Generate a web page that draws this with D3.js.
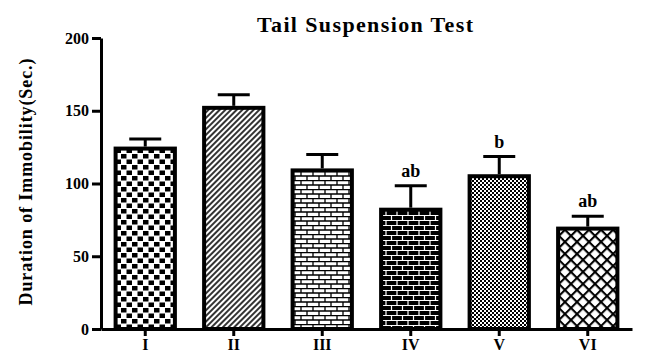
<!DOCTYPE html>
<html>
<head>
<meta charset="utf-8">
<script src="https://cdn.jsdelivr.net/npm/d3@7"></script>
<style>
    body { margin: 0; background: #fff; }
    text { font-family: 'Liberation Serif', 'Times New Roman', serif; font-weight: bold; }
</style>
</head>
<body>
<div id="chart"></div>
<script>
//Datos del gráfico
const groups = ['I', 'II', 'III', 'IV', 'V', 'VI'];
const means = [124, 152, 109, 82, 105, 69];
const sems = [6.5, 9, 11, 16.5, 13.5, 8.5];
const marks = ['', '', '', 'ab', 'b', 'ab'];
const yTicks = [0, 50, 100, 150, 200];
const patterns = ['checker', 'diag', 'brickLight', 'brickDark', 'fineChecker', 'lattice'];

let width = 647, height = 363;

let svg = d3.select('#chart')
    .append('svg')
        .attr('width', width)
        .attr('height', height);

//Patrones de relleno
let defs = svg.append('defs');

let p1 = defs.append('pattern').attr('id', 'checker').attr('patternUnits', 'userSpaceOnUse')
    .attr('width', 11).attr('height', 11);
p1.append('rect').attr('width', 11).attr('height', 11).attr('fill', '#fff');
p1.append('rect').attr('x', 0).attr('y', 0).attr('width', 5.5).attr('height', 4.5).attr('fill', '#000');
p1.append('rect').attr('x', 5.5).attr('y', 5.5).attr('width', 5.5).attr('height', 4.5).attr('fill', '#000');

let p2 = defs.append('pattern').attr('id', 'diag').attr('patternUnits', 'userSpaceOnUse')
    .attr('width', 4).attr('height', 4).attr('patternTransform', 'rotate(45)');
p2.append('rect').attr('width', 4).attr('height', 4).attr('fill', '#fff');
p2.append('line').attr('x1', 1).attr('x2', 1).attr('y1', 0).attr('y2', 4)
    .attr('stroke', '#000').attr('stroke-width', 1.6);

let p3 = defs.append('pattern').attr('id', 'brickLight').attr('patternUnits', 'userSpaceOnUse')
    .attr('width', 12).attr('height', 9);
p3.append('rect').attr('width', 12).attr('height', 9).attr('fill', '#fff');
p3.append('path').attr('d', 'M0,0.5H12M0,5H12M1,0V4.5M7,4.5V9')
    .attr('stroke', '#000').attr('stroke-width', 1.3).attr('fill', 'none');

let p4 = defs.append('pattern').attr('id', 'brickDark').attr('patternUnits', 'userSpaceOnUse')
    .attr('width', 11).attr('height', 10);
p4.append('rect').attr('width', 11).attr('height', 10).attr('fill', '#000');
p4.append('path').attr('d', 'M0,0.5H11M0,5.5H11M1,0V5M6.5,5V10')
    .attr('stroke', '#fff').attr('stroke-width', 1.2).attr('fill', 'none');

let p5 = defs.append('pattern').attr('id', 'fineChecker').attr('patternUnits', 'userSpaceOnUse')
    .attr('width', 4).attr('height', 4);
p5.append('rect').attr('width', 4).attr('height', 4).attr('fill', '#fff');
p5.append('rect').attr('width', 2).attr('height', 2).attr('fill', '#000');
p5.append('rect').attr('x', 2).attr('y', 2).attr('width', 2).attr('height', 2).attr('fill', '#000');

let p6 = defs.append('pattern').attr('id', 'lattice').attr('patternUnits', 'userSpaceOnUse')
    .attr('width', 8.5).attr('height', 8.5).attr('patternTransform', 'rotate(45)');
p6.append('rect').attr('width', 8.5).attr('height', 8.5).attr('fill', '#fff');
p6.append('path').attr('d', 'M0,0H8.5M0,0V8.5')
    .attr('stroke', '#000').attr('stroke-width', 4.2).attr('fill', 'none');

//Escalas
let x = d3.scaleBand()
    .domain(groups)
    .range([101, 632])
    .paddingInner(0.33)
    .paddingOuter(0.165);

let y = d3.scaleLinear()
    .domain([0, 200])
    .range([329, 38]);

//Barras
svg.append('g')
    .selectAll('rect')
    .data(groups)
    .enter()
    .append('rect')
    .attr('x', function(d) { return x(d); })
    .attr('y', function(d, i) { return y(means[i]); })
    .attr('width', x.bandwidth())
    .attr('height', function(d, i) { return y(0) - y(means[i]); })
    .attr('fill', function(d, i) { return 'url(#' + patterns[i] + ')'; })
    .attr('stroke', '#000')
    .attr('stroke-width', 4);

//Barras de error (solo superior)
let err = svg.append('g').attr('stroke', '#000').attr('stroke-width', 3);
groups.forEach(function(d, i) {
    let cx = x(d) + x.bandwidth() / 2;
    err.append('line')
        .attr('x1', cx).attr('x2', cx)
        .attr('y1', y(means[i]) - 2).attr('y2', y(means[i] + sems[i]));
    err.append('line')
        .attr('x1', cx - 16).attr('x2', cx + 16)
        .attr('y1', y(means[i] + sems[i])).attr('y2', y(means[i] + sems[i]));
});

//Letras de significancia
svg.append('g')
    .selectAll('text')
    .data(groups)
    .enter()
    .append('text')
    .attr('x', function(d) { return x(d) + x.bandwidth() / 2; })
    .attr('y', function(d, i) { return y(means[i] + sems[i]) - 9; })
    .attr('text-anchor', 'middle')
    .attr('font-size', '18px')
    .text(function(d, i) { return marks[i]; });

//Ejes
let yAxis = function(g) {
    g.call(d3.axisLeft(y).tickValues(yTicks).tickSize(9).tickPadding(3).tickSizeOuter(0));
    g.call(function(g) { g.selectAll('.tick text').attr('font-size', '16px').attr('font-family', null).attr('fill', '#000'); });
    g.call(function(g) { g.selectAll('line, path').attr('stroke', '#000').attr('stroke-width', 3); });
};

svg.append('g')
    .attr('transform', 'translate(101,0)')
    .call(yAxis);

let xAxis = function(g) {
    g.call(d3.axisBottom(x).tickSize(7).tickPadding(3).tickSizeOuter(0));
    g.call(function(g) { g.selectAll('.tick text').attr('font-size', '16px').attr('font-family', null).attr('fill', '#000'); });
    g.call(function(g) { g.selectAll('line, path').attr('stroke', '#000').attr('stroke-width', 3); });
};

svg.append('g')
    .attr('transform', 'translate(0,329)')
    .call(xAxis);

//Títulos
svg.append('text')
    .attr('x', 365)
    .attr('y', 32)
    .attr('text-anchor', 'middle')
    .attr('font-size', '22px')
    .attr('textLength', 216)
    .attr('lengthAdjust', 'spacing')
    .text('Tail Suspension Test');

svg.append('text')
    .attr('transform', 'translate(32,182) rotate(-90)')
    .attr('text-anchor', 'middle')
    .attr('font-size', '18px')
    .attr('textLength', 247)
    .attr('lengthAdjust', 'spacing')
    .text('Duration of Immobility(Sec.)');
</script>
</body>
</html>
